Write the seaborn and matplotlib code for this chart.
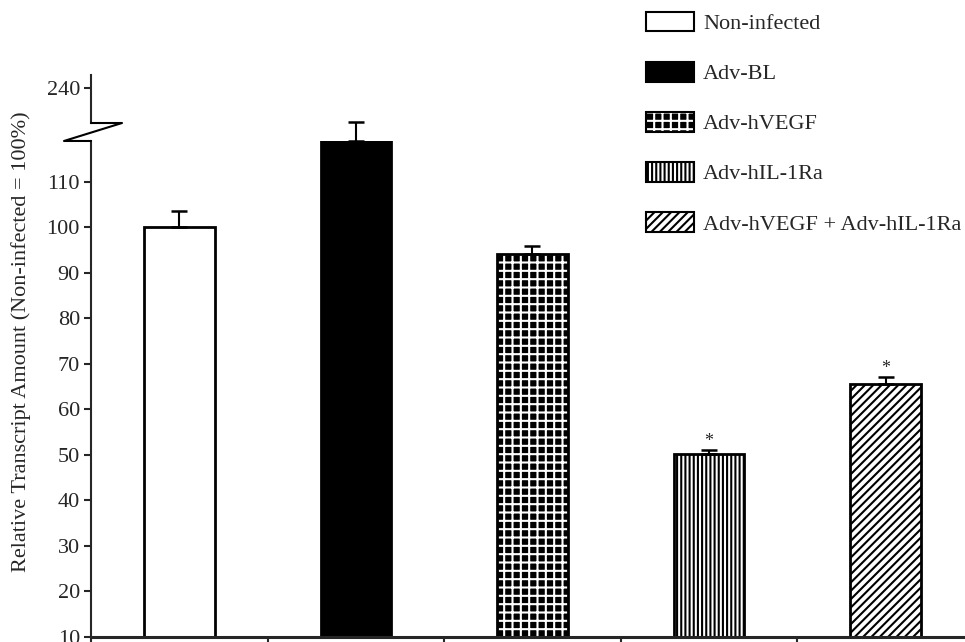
import matplotlib
matplotlib.use('Agg')
from matplotlib import pyplot as plt
from matplotlib.patches import Patch, Rectangle
from matplotlib.lines import Line2D
import seaborn as sns
import pandas as pd

# valeurs
groups = ['Non-infected', 'Adv-BL', 'Adv-hVEGF', 'Adv-hIL-1Ra', 'Adv-hVEGF + Adv-hIL-1Ra']
values = [100.1, 119.0, 94.2, 50.2, 65.7]
errors = [3.6, 4.2, 1.7, 0.9, 1.4]
signif = [False, False, False, True, True]
faces = ['white', 'black', 'black', 'white', 'white']
hatches = ['', '', '++', '||||', '////']
lower_ticks = [10, 20, 30, 40, 50, 60, 70, 80, 90, 100, 110]
upper_ticks = [240]
ylabel = 'Relative Transcript Amount (Non-infected = 100%)'

sns.set_style('ticks')
plt.rcParams['font.family'] = ['Liberation Serif', 'DejaVu Serif']
plt.rcParams['hatch.linewidth'] = 1.5

df = pd.DataFrame({'group': groups, 'value': values})

fig = plt.figure(figsize=(9.65, 6.42), dpi=100)
ax = fig.add_axes([0.0943, 0.0078, 0.9057, 0.7726])
top = fig.add_axes([0.0943, 0.8084, 0.9057, 0.0748])

sns.barplot(data=df, x='group', y='value', hue='group', order=groups, hue_order=groups,
            palette=faces, saturation=1, width=0.4, errorbar=None, legend=False,
            edgecolor='black', linewidth=2, ax=ax)

bars = sorted(ax.patches, key=lambda p: p.get_x())
for p, face, h in zip(bars, faces, hatches):
    if not h:
        continue
    if face == 'black':
        # motif blanc sur fond noir, puis contour noir par-dessus
        p.set_edgecolor('white')
        p.set_linewidth(0)
        p.set_hatch(h)
        ax.add_patch(Rectangle((p.get_x(), p.get_y()), p.get_width(), p.get_height(),
                               fill=False, edgecolor='black', lw=2, zorder=p.get_zorder() + 0.1))
    else:
        p.set_hatch(h)

xs = list(range(len(groups)))
eb = ax.errorbar(xs, values, yerr=[[0] * len(errors), errors], fmt='none', ecolor='black',
                 elinewidth=1.5, capsize=6, capthick=1.8, zorder=5)
for art in list(eb.lines[1]) + list(eb.lines[2]):
    art.set_clip_on(False)

for x, v, e, s in zip(xs, values, errors, signif):
    if s:
        ax.annotate('*', (x, v + e), xytext=(0, 0), textcoords='offset points',
                    ha='center', va='bottom', fontsize=13)

ax.set_xlim(-0.5, 4.45)
ax.set_ylim(10, 119)
ax.set_yticks(lower_ticks)
ax.set_xticks([x - 0.5 for x in xs])
ax.set_xticklabels([])
ax.set_xlabel('')
ax.set_ylabel('')
sns.despine(ax=ax)
ax.spines['left'].set_linewidth(1.5)
ax.spines['bottom'].set_linewidth(2.2)
ax.tick_params(axis='y', direction='out', length=5, width=1.5, labelsize=16, pad=3)
ax.tick_params(axis='x', direction='out', length=6, width=1.5)

top.set_xlim(-0.5, 4.45)
top.set_ylim(232.3, 242.9)
top.set_yticks(upper_ticks)
top.set_xticks([])
top.set_facecolor('none')
for side in ['top', 'right', 'bottom']:
    top.spines[side].set_visible(False)
top.spines['left'].set_linewidth(1.5)
top.tick_params(axis='y', direction='out', length=5, width=1.5, labelsize=16, pad=3)

# marque de coupure de l'axe
fw, fh = fig.get_size_inches() * fig.dpi
x0 = ax.get_position().x0
y_lo = ax.get_position().y1
y_hi = top.get_position().y0
fig.add_artist(Line2D([x0, x0 + 31 / fw, x0 - 27 / fw, x0], [y_hi, y_hi, y_lo, y_lo],
                      transform=fig.transFigure, color='black', lw=1.5))

fig.text(21 / fw, 1 - 342 / fh, ylabel, rotation=90, ha='center', va='center', fontsize=16)

handles = []
for face, h in zip(faces, hatches):
    if face == 'black' and h:
        handles.append((Patch(facecolor='black', edgecolor='white', hatch=h, lw=0),
                        Patch(facecolor='none', edgecolor='black', lw=1.5)))
    else:
        handles.append(Patch(facecolor=face, edgecolor='black', hatch=h, lw=1.5))
fig.legend(handles, groups, loc='upper left', bbox_to_anchor=(646 / fw, 1 - 11.5 / fh),
           frameon=False, fontsize=16, handlelength=2.16, handleheight=1.0,
           handletextpad=0.4, labelspacing=1.24, borderpad=0, borderaxespad=0)

fig.savefig('out.png', dpi=100)
